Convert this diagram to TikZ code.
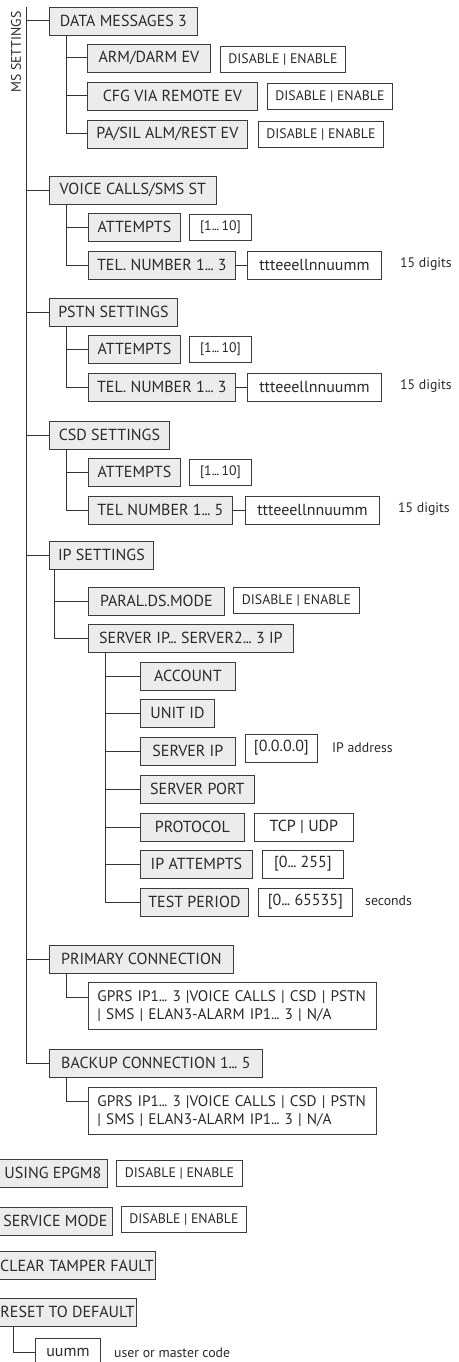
\documentclass[tikz,border=0pt]{standalone}
\usepackage{fontspec}
\setmainfont{PT Sans}
\definecolor{boxc}{HTML}{3C3C3C}
\definecolor{gfill}{HTML}{ECECEC}
\definecolor{txtc}{HTML}{2A2A2A}
\definecolor{linec}{HTML}{333333}
\newcommand{\mainf}{\fontsize{16}{18}\selectfont}
\newcommand{\listf}{\fontsize{15.3}{18}\selectfont}
\newcommand{\smallf}{\fontsize{13.8}{15}\selectfont}
\newcommand{\eli}{.\kern-0.7pt.\kern-0.7pt.}
\begin{document}
\begin{tikzpicture}[x=1pt,y=-1pt,
  gbox/.style={draw=boxc,fill=gfill,line width=0.8pt,inner sep=0pt,minimum height=28pt,anchor=west,font=\mainf,text=txtc},
  wbox/.style={draw=boxc,fill=white,line width=0.8pt,inner sep=0pt,minimum height=26pt,anchor=west,font=\smallf,text=txtc},
  tbox/.style={draw=boxc,fill=white,line width=0.8pt,inner sep=0pt,minimum height=28pt,anchor=west,font=\mainf,text=txtc},
  lbox/.style={draw=boxc,fill=white,line width=0.8pt,anchor=north west,minimum width=288pt,minimum height=47pt,inner xsep=9pt,inner ysep=0pt,text width=270pt,align=left,font=\listf,text=txtc},
  note/.style={anchor=west,inner sep=0pt,font=\smallf,text=txtc},
  conn/.style={draw=linec,line width=1pt}]
\useasboundingbox (0,0) rectangle (458,1362);
\clip (0,0) rectangle (458,1362);

% rotated title
\node[rotate=90,inner sep=0pt,font=\smallf,text=txtc] (ms) at (16,52) {MS SETTINGS};

% DATA MESSAGES
\node[gbox,minimum width=148pt] (dm) at (49,21) {DATA MESSAGES 3};
\node[gbox,minimum width=123pt] (arm) at (87,58) {ARM/DARM EV};
\node[wbox,minimum width=125pt] (armv) at (220,59) {DISABLE | ENABLE};
\node[gbox,minimum width=170pt] (cfg) at (87,96) {CFG VIA REMOTE EV};
\node[wbox,minimum width=125pt] (cfgv) at (267,96) {DISABLE | ENABLE};
\node[gbox,minimum width=160pt] (pa) at (87,134) {PA/SIL ALM/REST EV};
\node[wbox,minimum width=125pt] (pav) at (258,134) {DISABLE | ENABLE};

% VOICE CALLS
\node[gbox,minimum width=167pt] (vc) at (49,190) {VOICE CALLS/SMS ST};
\node[gbox,minimum width=92pt] (vcat) at (88,227) {ATTEMPTS};
\node[wbox,minimum width=62pt] (vcatv) at (189,227) {[1\eli\,10]};
\node[gbox,minimum width=147pt] (vctel) at (88,265) {TEL. NUMBER 1\eli\ 3};
\node[tbox,minimum width=134pt] (vctelv) at (247,265) {ttteeellnnuumm};
\node[note] (vcd) at (400,264) {15 digits};

% PSTN
\node[gbox,minimum width=128pt] (pstn) at (49,312) {PSTN SETTINGS};
\node[gbox,minimum width=92pt] (psat) at (88,349) {ATTEMPTS};
\node[wbox,minimum width=62pt] (psatv) at (189,349) {[1\eli\,10]};
\node[gbox,minimum width=147pt] (pstel) at (88,387) {TEL. NUMBER 1\eli\ 3};
\node[tbox,minimum width=134pt] (pstelv) at (247,387) {ttteeellnnuumm};
\node[note] (psd) at (400,386) {15 digits};

% CSD
\node[gbox,minimum width=120pt] (csd) at (49,435) {CSD SETTINGS};
\node[gbox,minimum width=92pt] (csat) at (88,472) {ATTEMPTS};
\node[wbox,minimum width=62pt] (csatv) at (189,472) {[1\eli\,10]};
\node[gbox,minimum width=144pt] (cstel) at (88,510) {TEL NUMBER 1\eli\ 5};
\node[tbox,minimum width=134pt] (cstelv) at (245,510) {ttteeellnnuumm};
\node[note] (csdd) at (398,509) {15 digits};

% IP SETTINGS
\node[gbox,minimum width=104pt] (ip) at (49,555) {IP SETTINGS};
\node[gbox,minimum width=136pt] (paral) at (88,601) {PARAL.DS.MODE};
\node[wbox,minimum width=126pt] (paralv) at (233,600) {DISABLE | ENABLE};
\node[gbox,minimum width=205pt] (srv) at (88,638) {SERVER IP\eli\ SERVER2\eli\ 3 IP};
\node[gbox,minimum width=95pt] (acc) at (140,676) {ACCOUNT};
\node[gbox,minimum width=74pt] (uid) at (140,713) {UNIT ID};
\node[gbox,minimum width=95pt] (sip) at (140,751) {SERVER IP};
\node[tbox,minimum width=72pt] (sipv) at (245,748) {[0.0.0.0]};
\node[note] (sipd) at (332,748) {IP address};
\node[gbox,minimum width=114pt] (sport) at (140,789) {SERVER PORT};
\node[gbox,minimum width=104pt] (proto) at (140,827) {PROTOCOL};
\node[tbox,minimum width=99pt] (protov) at (254,827) {TCP | UDP};
\node[gbox,minimum width=112pt] (ipat) at (140,864) {IP ATTEMPTS};
\node[tbox,minimum width=81pt] (ipatv) at (262,864) {[0\eli\ 255]};
\node[gbox,minimum width=108pt] (test) at (140,902) {TEST PERIOD};
\node[tbox,minimum width=94pt] (testv) at (258,902) {[0\eli\ 65535]};
\node[note] (testd) at (365,901) {seconds};

% CONNECTIONS
\node[gbox,minimum width=184pt] (prim) at (49,959) {PRIMARY CONNECTION};
\node[lbox] (primv) at (88,982)
  {\mbox{GPRS IP1\eli\ 3 |VOICE CALLS | CSD | PSTN}\\\mbox{| SMS | ELAN3-ALARM IP1\eli\ 3 | N/A}};
\node[gbox,minimum width=213pt] (backup) at (49,1063) {BACKUP CONNECTION 1\eli\ 5};
\node[lbox] (backupv) at (88,1087)
  {\mbox{GPRS IP1\eli\ 3 |VOICE CALLS | CSD | PSTN}\\\mbox{| SMS | ELAN3-ALARM IP1\eli\ 3 | N/A}};

% bottom items
\node[gbox,minimum width=109pt] (epgm) at (-2,1173) {USING EPGM8};
\node[wbox,minimum width=126pt] (epgmv) at (116,1173.5) {DISABLE | ENABLE};
\node[gbox,minimum width=114pt] (svc) at (-2,1221) {SERVICE MODE};
\node[wbox,minimum width=125pt] (svcv) at (121,1219) {DISABLE | ENABLE};
\node[gbox,minimum width=157pt] (clr) at (-2,1265.5) {CLEAR TAMPER FAULT};
\node[gbox,minimum width=138pt] (rst) at (-2,1312) {RESET TO DEFAULT};
\node[tbox,minimum width=65pt] (uumm) at (35,1352) {uumm};
\node[note] (uummd) at (114,1353) {user or master code};

% trunk
\coordinate (trunk) at (26,7);
\draw[conn] (trunk) |- (backup.west);
\foreach \n in {dm,vc,pstn,csd,ip,prim}{\draw[conn] (trunk |- \n.west) -- (\n.west);}

% sub trunks
\coordinate (dmt) at ([xshift=17pt]dm.south west);
\draw[conn] (dmt) |- (pa.west);
\draw[conn] (dmt |- arm.west) -- (arm.west);
\draw[conn] (dmt |- cfg.west) -- (cfg.west);

\coordinate (vct) at ([xshift=17pt]vc.south west);
\draw[conn] (vct) |- (vctel.west);
\draw[conn] (vct |- vcat.west) -- (vcat.west);
\draw[conn] (vctel.east) -- (vctelv.west);

\coordinate (pst) at ([xshift=17pt]pstn.south west);
\draw[conn] (pst) |- (pstel.west);
\draw[conn] (pst |- psat.west) -- (psat.west);
\draw[conn] (pstel.east) -- (pstelv.west);

\coordinate (cst) at ([xshift=17pt]csd.south west);
\draw[conn] (cst) |- (cstel.west);
\draw[conn] (cst |- csat.west) -- (csat.west);
\draw[conn] (cstel.east) -- (cstelv.west);

\coordinate (ipt) at ([xshift=5pt]ip.south west);
\draw[conn] (ipt) |- (srv.west);
\draw[conn] (ipt |- paral.west) -- (paral.west);

\coordinate (srt) at ([xshift=17pt]srv.south west);
\draw[conn] (srt) |- (test.west);
\foreach \n in {acc,uid,sip,sport,proto,ipat}{\draw[conn] (srt |- \n.west) -- (\n.west);}

\coordinate (prt) at ([xshift=17pt]prim.south west);
\draw[conn] (prt) |- ([yshift=-15pt]primv.north west);
\coordinate (bkt) at ([xshift=17pt]backup.south west);
\draw[conn] (bkt) |- ([yshift=-14pt]backupv.north west);

\coordinate (rstt) at (13,1326);
\draw[conn] (rstt |- rst.south) |- (uumm.west);
\end{tikzpicture}
\end{document}
